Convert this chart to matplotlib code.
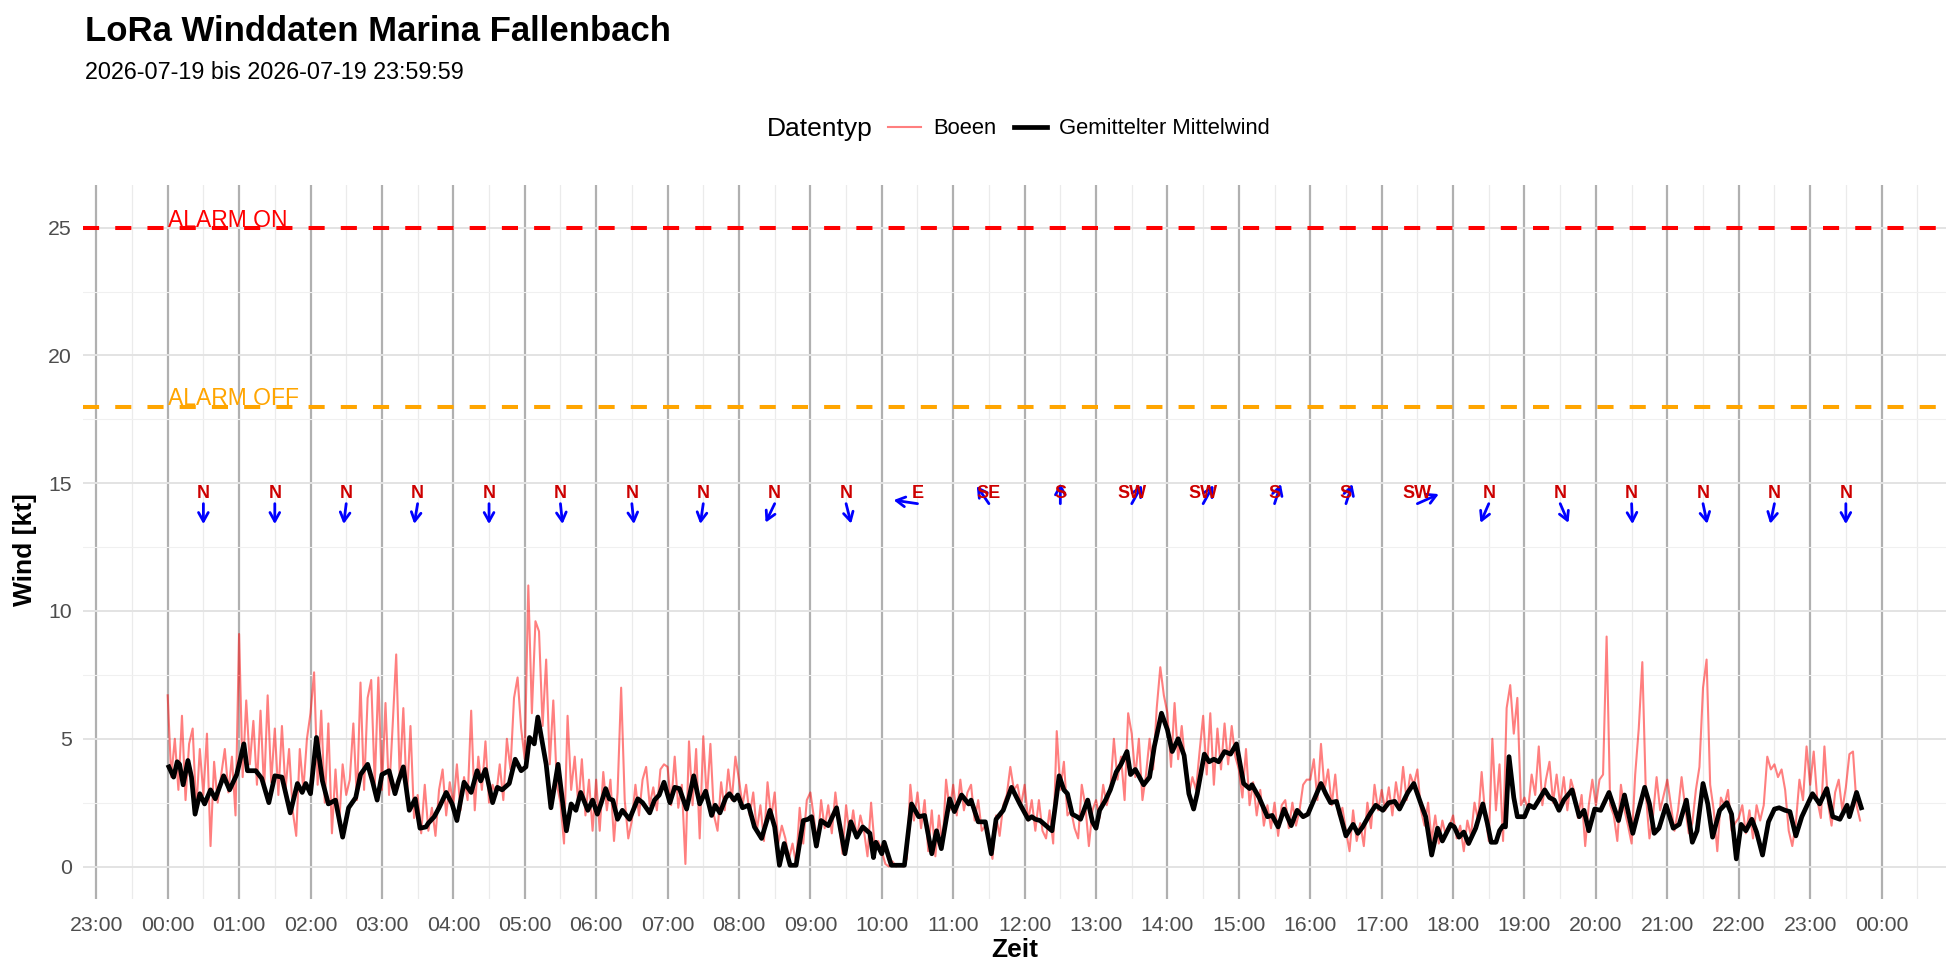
import numpy as np
import matplotlib
matplotlib.use("Agg")
import matplotlib.pyplot as plt
from matplotlib.lines import Line2D

plt.rcParams['font.family'] = ['Liberation Sans', 'DejaVu Sans']

# Boeen (gusts) in kt, one value every 3 minutes from 00:00
gust_step_min = 3
gusts = [
    6.7, 3.5, 5.0, 3.0, 5.9, 2.6, 4.8, 5.4, 2.2, 4.6, 2.8, 5.2, 0.8, 4.1, 2.5, 3.6, 4.6, 2.9, 4.3, 2.0,  # 00
    9.1, 3.5, 6.5, 4.0, 5.7, 3.2, 6.1, 3.0, 6.7, 3.3, 5.4, 2.8, 5.5, 3.0, 4.6, 2.2, 1.2, 4.6, 3.0, 5.0,  # 01
    6.0, 7.6, 3.2, 6.1, 2.5, 5.6, 1.3, 3.8, 1.6, 4.0, 2.8, 3.4, 5.6, 2.6, 7.2, 3.0, 6.6, 7.3, 3.2, 7.4,  # 02
    3.0, 6.4, 2.8, 5.5, 8.3, 3.4, 6.2, 2.6, 5.5, 1.9, 2.8, 1.3, 3.2, 1.4, 2.3, 1.2, 3.0, 3.8, 2.0, 3.3,  # 03
    2.4, 4.0, 2.2, 3.5, 2.6, 6.1, 2.2, 4.3, 3.0, 4.9, 2.5, 3.2, 2.8, 4.0, 2.6, 5.0, 3.8, 6.6, 7.4, 5.4,  # 04
    4.2, 11.0, 6.0, 9.6, 9.2, 5.5, 8.1, 4.0, 6.5, 3.2, 2.5, 0.9, 5.9, 3.0, 4.3, 2.4, 4.2, 2.0, 3.4, 1.4,  # 05
    3.4, 1.4, 3.7, 2.2, 3.4, 1.0, 2.9, 7.0, 2.6, 1.1, 1.8, 3.2, 2.0, 3.4, 3.9, 2.4, 3.1, 2.2, 3.8, 4.0,  # 06
    3.9, 2.4, 4.3, 2.3, 3.2, 0.1, 4.9, 2.4, 4.6, 1.1, 5.1, 2.6, 4.8, 2.0, 1.4, 3.3, 2.2, 3.8, 2.6, 4.3,  # 07
    3.4, 2.4, 3.2, 2.0, 2.9, 1.4, 2.4, 1.0, 3.3, 1.9, 2.9, 0.9, 1.6, 1.1, 0.3, 0.9, 0.1, 2.3, 0.9, 2.6,  # 08
    2.9, 1.9, 0.8, 2.6, 1.5, 2.4, 1.3, 2.9, 1.7, 0.5, 2.4, 1.2, 2.2, 1.1, 2.0, 1.4, 0.4, 2.5, 0.8, 1.0,  # 09
    0.6, 0.1, 0.0, 0.2, 0.0, 0.1, 0.0, 0.3, 3.2, 1.8, 2.9, 1.5, 2.6, 0.6, 2.2, 0.4, 2.0, 0.8, 3.4, 2.2,  # 10
    3.2, 2.0, 3.4, 2.2, 2.9, 3.2, 1.8, 2.6, 1.4, 1.6, 1.0, 0.3, 2.0, 1.2, 2.4, 2.8, 3.9, 3.0, 3.2, 2.4,  # 11
    3.2, 1.8, 2.6, 1.4, 2.6, 1.4, 1.1, 2.2, 0.9, 5.3, 3.0, 4.1, 2.0, 2.2, 1.5, 1.1, 3.2, 2.4, 0.8, 2.2,  # 12
    2.6, 1.9, 3.2, 2.4, 3.0, 5.0, 3.4, 4.3, 2.6, 6.0, 5.2, 3.5, 5.0, 2.6, 3.6, 5.0, 3.8, 6.2, 7.8, 6.7,  # 13
    6.0, 3.9, 6.4, 4.2, 5.5, 4.0, 2.8, 3.5, 3.0, 4.5, 5.9, 3.6, 6.0, 3.2, 5.4, 3.8, 5.6, 4.0, 5.5, 4.3,  # 14
    3.8, 2.7, 4.6, 2.4, 3.3, 2.0, 3.0, 1.6, 2.4, 1.5, 2.5, 1.2, 2.4, 2.6, 1.5, 2.5, 1.6, 2.2, 3.2, 3.4,  # 15
    3.4, 4.2, 2.6, 4.8, 3.0, 3.8, 2.4, 3.6, 2.0, 2.3, 1.4, 0.6, 2.2, 1.0, 1.7, 0.8, 2.5, 1.5, 3.2, 2.2,  # 16
    3.0, 2.2, 3.1, 2.0, 3.3, 2.4, 3.9, 2.6, 3.6, 3.2, 3.8, 2.2, 1.6, 2.5, 1.0, 2.0, 0.9, 1.8, 1.2, 1.6,  # 17
    2.0, 1.1, 1.6, 0.6, 1.8, 1.2, 2.5, 1.8, 3.7, 2.0, 1.0, 5.0, 2.2, 4.0, 1.0, 6.2, 7.1, 5.2, 6.6, 2.4,  # 18
    2.7, 2.2, 3.6, 2.8, 4.7, 2.4, 3.4, 4.1, 2.5, 3.6, 2.4, 3.5, 2.2, 3.4, 2.9, 1.9, 2.8, 0.8, 2.4, 3.4,  # 19
    2.4, 3.4, 3.6, 9.0, 2.4, 2.0, 1.0, 3.2, 2.2, 1.6, 0.9, 3.6, 5.4, 8.0, 2.8, 1.1, 2.0, 3.5, 2.2, 2.8,  # 20
    3.4, 2.4, 1.4, 2.2, 3.5, 2.3, 1.3, 1.7, 3.0, 3.9, 7.0, 8.1, 3.2, 2.2, 0.6, 2.7, 2.4, 3.0, 1.4, 1.7,  # 21
    1.9, 2.4, 1.3, 2.2, 1.1, 2.4, 1.8, 2.4, 4.3, 3.8, 4.0, 3.5, 3.8, 3.0, 1.4, 0.8, 1.7, 3.4, 2.6, 4.7,  # 22
    3.2, 4.5, 2.6, 1.9, 4.7, 2.5, 1.6, 2.9, 3.4, 2.2, 3.1, 4.4, 4.5, 2.4, 1.8,                          # 23
]

# Gemittelter Mittelwind: minute of day and kt
mean_min = [
    1, 5, 8, 10, 13, 17, 20, 23, 27, 31, 36, 40, 47, 52, 58, 64, 67, 74, 79, 85, 90, 96, 103, 109, 113,
    116, 120, 125, 130, 135, 141, 147, 152, 158, 162, 168, 172, 176, 180, 186, 191, 194, 198, 203, 208,
    212, 217, 219, 224, 228, 234, 239, 243, 249, 255, 260, 263, 267, 273, 277, 281, 287, 292, 297, 301,
    304, 308, 311, 314, 318, 322, 328, 332, 335, 339, 343, 347, 353, 357, 361,
    364, 368, 371, 374, 378, 382, 388, 395, 399, 405, 409, 413, 417, 422, 426, 430, 436, 442, 447, 452,
    457, 460, 464, 469, 472, 476, 479, 483, 488, 493, 499, 506, 510, 514, 518, 523, 528, 534, 538, 541,
    545, 549, 555, 562, 569, 574, 579, 584, 590, 593, 595, 600, 602, 608, 619, 625, 631, 636, 642, 646,
    650, 657, 661, 667, 673, 675, 681, 687, 692, 696, 702, 709, 716, 723,
    726, 729, 733, 738, 743, 746, 749, 753, 756, 760, 764, 767, 773, 777, 780, 783, 788, 792, 797, 801,
    806, 809, 813, 820, 825, 829, 835, 840, 844, 849, 854, 858, 862, 865, 871, 875, 879, 883, 888, 893,
    898, 904, 909, 911, 917, 924, 928, 933, 938, 944, 949, 954, 958, 963, 969, 973, 977, 982, 990, 996,
    1000, 1004, 1010, 1015, 1021, 1026, 1031, 1035, 1042, 1047, 1053, 1057, 1062, 1067, 1071, 1078,
    1081, 1085, 1089, 1093, 1099, 1105, 1109, 1112, 1116, 1119, 1122, 1124, 1127, 1131, 1134, 1140, 1144,
    1148, 1152, 1157, 1161, 1165, 1169, 1173, 1180, 1186, 1190, 1194, 1199, 1204, 1211, 1219, 1224, 1231,
    1237, 1241, 1245, 1249, 1253, 1259, 1265, 1270, 1276, 1281, 1285, 1290, 1294, 1298, 1304, 1310, 1314,
    1318, 1322, 1326, 1331, 1335, 1340, 1345, 1350, 1354, 1359, 1363, 1368, 1373, 1378, 1382, 1388, 1394,
    1399, 1405, 1411, 1413, 1419, 1423,
]
mean_kt = [
    3.9, 3.5, 4.1, 4.0, 3.2, 4.15, 3.5, 2.05, 2.85, 2.45, 3.0, 2.65, 3.55, 3.0, 3.6, 4.8, 3.75, 3.75, 3.45,
    2.5, 3.55, 3.5, 2.1, 3.25, 2.9, 3.25, 2.85, 5.05, 3.35, 2.45, 2.6, 1.15, 2.3, 2.7, 3.6, 4.0, 3.35, 2.6,
    3.6, 3.75, 2.85, 3.35, 3.9, 2.2, 2.65, 1.5, 1.55, 1.7, 1.95, 2.3, 2.9, 2.45, 1.8, 3.3, 2.9, 3.75, 3.35,
    3.8, 2.5, 3.1, 3.0, 3.25, 4.2, 3.75, 3.9, 5.05, 4.8, 5.85, 5.05, 4.0, 2.3, 4.0, 2.45, 1.4, 2.45, 2.2,
    2.9, 2.2, 2.6, 2.05,
    2.45, 3.05, 2.65, 2.6, 1.85, 2.2, 1.85, 2.65, 2.5, 2.1, 2.6, 2.8, 3.3, 2.5, 3.1, 3.05, 2.25, 3.55, 2.45,
    2.95, 2.0, 2.4, 2.1, 2.7, 2.85, 2.6, 2.8, 2.3, 2.4, 1.55, 1.1, 2.2, 1.55, 0.05, 0.9, 0.05, 0.05, 1.8,
    1.85, 1.95, 0.8, 1.8, 1.6, 2.3, 0.5, 1.75, 1.15, 1.55, 1.3, 0.35, 0.95, 0.5, 0.95, 0.05, 0.05, 2.45,
    1.95, 2.0, 0.5, 1.4, 0.7, 2.65, 2.15, 2.8, 2.45, 2.6, 1.75, 1.75, 0.5, 1.85, 2.2, 3.1, 2.45, 1.85,
    1.95, 1.85, 1.8, 1.6, 1.4, 2.45, 3.55, 3.0, 2.85, 2.05, 1.95, 1.85, 2.6, 1.75, 1.5, 2.2, 2.6, 3.0, 3.7,
    4.0, 4.5, 3.6, 3.8, 3.2, 3.5, 4.7, 6.0, 5.35, 4.5, 5.0, 4.35, 2.85, 2.25, 2.85, 4.4, 4.1, 4.2, 4.1,
    4.5, 4.4, 4.8, 3.25, 3.05, 3.2, 2.7, 1.95, 2.0, 1.55, 2.25, 1.6, 2.2, 1.95, 2.05, 2.6, 3.25, 2.85, 2.5,
    2.55, 1.2, 1.65, 1.3, 1.55, 2.05, 2.4, 2.2, 2.5, 2.55, 2.25, 2.9, 3.25, 2.45, 1.95, 0.45, 1.5, 1.0, 1.65,
    1.55, 1.15, 1.35, 0.9, 1.5, 2.45, 1.65, 0.95, 0.95, 1.4, 1.6, 1.55, 4.3, 2.7, 1.95, 1.95, 2.4, 2.3,
    2.6, 3.0, 2.7, 2.6, 2.2, 2.6, 3.0, 1.95, 2.2, 1.4, 2.25, 2.2, 2.9, 1.8, 2.8, 1.3, 2.4, 3.1, 2.45, 1.3,
    1.5, 2.4, 1.5, 1.65, 2.6, 0.95, 1.4, 3.25, 2.45, 1.15, 2.2, 2.5, 2.05, 0.3, 1.65, 1.4, 1.85, 1.35,
    0.45, 1.75, 2.25, 2.3, 2.2, 2.15, 1.2, 1.95, 2.45, 2.85, 2.45, 3.05, 1.95, 1.85, 2.4, 1.95, 2.9, 2.3,
]

# Windrichtung je Stunde (Richtung, aus der der Wind kommt)
dir_labels = ['N', 'N', 'N', 'N', 'N', 'N', 'N', 'N', 'N', 'N', 'E', 'SE',
              'S', 'SW', 'SW', 'S', 'S', 'SW', 'N', 'N', 'N', 'N', 'N', 'N']
dir_deg = [0, 0, 6, 8, 0, 355, 355, 7, 22, 348, 100, 150,
           180, 205, 205, 195, 195, 242, 20, 340, 358, 350, 10, 0]

alarm_on = 25
alarm_off = 18

gust_h = np.arange(len(gusts)) * gust_step_min / 60
mean_h = np.array(mean_min) / 60

fig = plt.figure(figsize=(19.6, 9.8), dpi=100)
ax = fig.add_axes([83/1960, 81/980, (1946-83)/1960, (899-185)/980])

ax.plot(gust_h, gusts, color='red', alpha=0.5, lw=1.5)
ax.plot(mean_h, mean_kt, color='black', lw=3.4, solid_joinstyle='round')

ax.axhline(alarm_on, color='red', lw=2.9, ls=(0, (4, 4)))
ax.axhline(alarm_off, color='orange', lw=2.9, ls=(0, (4, 4)))
ax.text(0, alarm_on + 0.3, 'ALARM ON', color='red', fontsize=16.5, ha='left', va='center')
ax.text(0, alarm_off + 0.3, 'ALARM OFF', color='orange', fontsize=16.5, ha='left', va='center')

# wind direction arrows
for i, (lab, deg) in enumerate(zip(dir_labels, dir_deg)):
    x0 = i + 0.5
    y0 = 14.2
    th = np.radians(deg)
    x1 = x0 - 0.34 * np.sin(th)
    y1 = y0 - 0.8 * np.cos(th)
    ax.annotate('', xy=(x1, y1), xytext=(x0, y0),
                arrowprops=dict(arrowstyle='->,head_length=0.45,head_width=0.25',
                                color='blue', lw=2, shrinkA=0, shrinkB=0,
                                mutation_scale=14))
    ax.text(x0, 14.43, lab, color='#CD0000', fontsize=13, fontweight='bold',
            ha='center', va='baseline')

# axes
t_max = max(gust_h[-1], mean_h[-1])
ax.set_xlim(-0.05 * t_max, 1.05 * t_max)
y_top = alarm_on + 0.4
ax.set_ylim(-0.05 * y_top, 1.05 * y_top)

hours = list(range(-1, 25))
ax.set_xticks(hours)
ax.set_xticklabels([f"{h % 24:02d}:00" for h in hours])
ax.set_xticks(np.arange(-0.5, 25, 1), minor=True)
ax.set_yticks([0, 5, 10, 15, 20, 25])
ax.set_yticks(np.arange(2.5, 26, 5), minor=True)

ax.grid(which='major', axis='x', color='#B0B0B0', lw=1.6)
ax.grid(which='minor', axis='x', color='#EBEBEB', lw=0.9)
ax.grid(which='major', axis='y', color='#E3E3E3', lw=1.4)
ax.grid(which='minor', axis='y', color='#F0F0F0', lw=0.8)
ax.set_axisbelow(True)
for s in ax.spines.values():
    s.set_visible(False)
ax.tick_params(which='both', length=0, labelsize=15.3, labelcolor='#4D4D4D')
ax.tick_params(axis='x', pad=12)
ax.tick_params(axis='y', pad=8)

fig.text(1015/1960, 1 - 950/980, 'Zeit', fontsize=19, fontweight='bold', ha='center', va='center')
fig.text(25/1960, 1 - 550/980, 'Wind [kt]', fontsize=19, fontweight='bold', ha='center', va='center',
         rotation=90)

fig.text(85/1960, 1 - 41/980, 'LoRa Winddaten Marina Fallenbach', fontsize=25, fontweight='bold',
         ha='left', va='baseline')
fig.text(85/1960, 1 - 79/980, '2026-07-19 bis 2026-07-19 23:59:59', fontsize=16.8,
         ha='left', va='baseline')

# legend
fig.text(767/1960, 1 - 129/980, 'Datentyp', fontsize=19, ha='left', va='center')
handles = [Line2D([], [], color='red', alpha=0.5, lw=1.5),
           Line2D([], [], color='black', lw=3.4)]
fig.legend(handles, ['Boeen', 'Gemittelter Mittelwind'], loc='center left',
           bbox_to_anchor=(888/1960, 1 - 129/980), ncol=2, frameon=False, fontsize=15.8,
           handlelength=1.5, handletextpad=0.55, columnspacing=0.8, borderpad=0, borderaxespad=0)

fig.savefig('out.png', dpi=100)
